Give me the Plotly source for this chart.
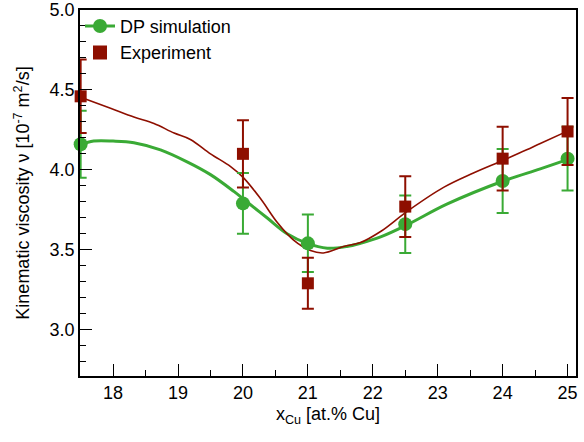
import plotly.graph_objects as go

# Data points
x_pts = [17.5, 20, 21, 22.5, 24, 25]
dp_y = [4.16, 3.79, 3.54, 3.66, 3.93, 4.07]
dp_err = [0.21, 0.19, 0.18, 0.18, 0.20, 0.20]
exp_y = [4.46, 4.10, 3.29, 3.77, 4.07, 4.24]
exp_err = [0.23, 0.21, 0.16, 0.19, 0.20, 0.21]

# Fitted curves
dp_fit_x = [17.5, 17.7, 18.0, 18.32, 18.73, 19.14, 19.5, 19.86, 20.06, 20.37, 20.68, 20.99,
            21.3, 21.6, 21.81, 22.12, 22.53, 23.14, 24.01, 24.58, 25.04]
dp_fit_y = [4.156, 4.18, 4.18, 4.17, 4.125, 4.05, 3.97, 3.865, 3.80, 3.70, 3.60, 3.54,
            3.51, 3.52, 3.54, 3.58, 3.656, 3.785, 3.93, 4.006, 4.07]
exp_fit_x = [17.5, 17.96, 18.32, 18.63, 18.94, 19.19, 19.5, 19.81, 20.01, 20.27, 20.53, 20.78,
             21.04, 21.24, 21.55, 21.81, 22.12, 22.53, 23.09, 23.55, 24.01, 24.37, 24.58, 25.04]
exp_fit_y = [4.454, 4.385, 4.33, 4.29, 4.23, 4.19, 4.10, 4.02, 3.95, 3.82, 3.67, 3.56,
             3.495, 3.48, 3.52, 3.545, 3.614, 3.74, 3.89, 3.98, 4.06, 4.125, 4.165, 4.25]

GREEN = "#3aaa35"
RED = "#8e0f00"

fig = go.Figure()
fig.add_trace(go.Scatter(x=dp_fit_x, y=dp_fit_y, mode="lines", line=dict(color=GREEN, width=3, shape="spline"),
                         showlegend=False, hoverinfo="skip"))
fig.add_trace(go.Scatter(x=exp_fit_x, y=exp_fit_y, mode="lines", line=dict(color=RED, width=1.6, shape="spline"),
                         showlegend=False, hoverinfo="skip"))
fig.add_trace(go.Scatter(x=x_pts, y=dp_y, mode="markers", name="DP simulation",
                         marker=dict(color=GREEN, size=14, symbol="circle"),
                         error_y=dict(type="data", array=dp_err, color=GREEN, thickness=2, width=6),
                         showlegend=False, cliponaxis=False))
fig.add_trace(go.Scatter(x=x_pts, y=exp_y, mode="markers", name="Experiment",
                         marker=dict(color=RED, size=12, symbol="square"),
                         error_y=dict(type="data", array=exp_err, color=RED, thickness=2, width=6),
                         showlegend=False, cliponaxis=False))
# legend entries
fig.add_trace(go.Scatter(x=[None], y=[None], mode="lines+markers", name="DP simulation",
                         line=dict(color=GREEN, width=3), marker=dict(color=GREEN, size=14)))
fig.add_trace(go.Scatter(x=[None], y=[None], mode="markers", name="Experiment",
                         marker=dict(color=RED, size=14, symbol="square")))

font = "Liberation Sans, Arial, sans-serif"
fig.update_layout(
    width=584, height=442,
    margin=dict(l=80, r=8, t=10, b=66),
    paper_bgcolor="white", plot_bgcolor="white",
    font=dict(family=font, size=18, color="black"),
    legend=dict(x=0.0, y=1.006, xanchor="left", yanchor="top", bgcolor="rgba(0,0,0,0)",
                font=dict(size=18), itemwidth=30, tracegroupgap=0),
    xaxis=dict(range=[17.49, 25.13], showgrid=False, zeroline=False, automargin=False,
               showline=True, linecolor="black", linewidth=1.5, mirror=True,
               ticks="inside", ticklen=12, tickwidth=1.2, tickcolor="black",
               tickvals=[18, 19, 20, 21, 22, 23, 24, 25], ticklabeloverflow="allow",
               minor=dict(dtick=0.5, tick0=17.5, ticks="inside", ticklen=6, tickwidth=1.2, tickcolor="black"),
               title=dict(text="x<sub>Cu</sub> [at.% Cu]", font=dict(size=18), standoff=5),
               tickfont=dict(size=18)),
    yaxis=dict(range=[2.71, 5.0], showgrid=False, zeroline=False, automargin=False,
               showline=True, linecolor="black", linewidth=1.5, mirror=True,
               ticks="inside", ticklen=12, tickwidth=1.2, tickcolor="black",
               tickvals=[3.0, 3.5, 4.0, 4.5, 5.0], ticktext=["3.0", "3.5", "4.0", "4.5", "5.0"],
               ticklabeloverflow="allow",
               minor=dict(dtick=0.1, tick0=3.0, ticks="inside", ticklen=6, tickwidth=1.2, tickcolor="black"),
               title=dict(text="Kinematic viscosity ν [10<sup>-7</sup> m<sup>2</sup>/s]", font=dict(size=18), standoff=15),
               tickfont=dict(size=18)),
)
fig.write_html("out.html", config={"displayModeBar": False},
               post_script="document.body.style.margin='0';document.body.style.overflow='hidden';")
